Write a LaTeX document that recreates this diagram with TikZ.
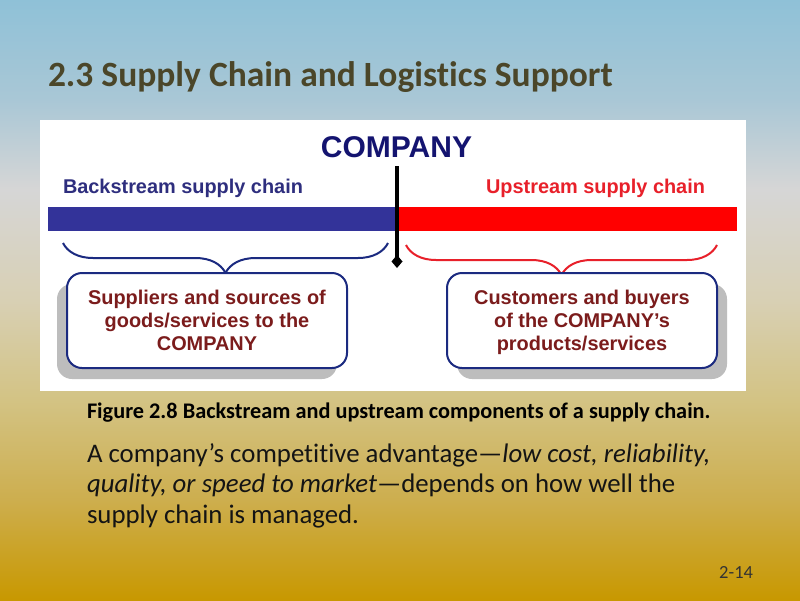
\documentclass[tikz,border=0pt]{standalone}
\usepackage{fontspec}
\setmainfont{Carlito}[Ligatures=NoCommon]
\newfontfamily\arialf{Liberation Sans}
\usetikzlibrary{arrows.meta,decorations.pathreplacing,shadows}
\definecolor{bgA}{HTML}{C89800}
\definecolor{bgB}{HTML}{CDAE4E}
\definecolor{bgC}{HTML}{D3C384}
\definecolor{bgD}{HTML}{D8D0B4}
\definecolor{bgE}{HTML}{D6D6D6}
\definecolor{bgF}{HTML}{A9C7D6}
\definecolor{bgG}{HTML}{8FC1D7}
\definecolor{titlecol}{HTML}{4B4629}
\definecolor{navy}{HTML}{141470}
\definecolor{backblue}{HTML}{2E2E7E}
\definecolor{barblue}{HTML}{333399}
\definecolor{upred}{HTML}{E8202A}
\definecolor{boxline}{HTML}{1B2A80}
\definecolor{maroon}{HTML}{7B1C1C}
\pgfdeclareverticalshading{slidebg}{100bp}{color(0bp)=(bgA); color(25bp)=(bgA); color(33.33bp)=(bgB); color(41.67bp)=(bgC); color(50bp)=(bgD); color(59.17bp)=(bgE); color(66.67bp)=(bgF); color(75bp)=(bgG); color(100bp)=(bgG)}
\tikzset{
  txt/.style={inner sep=0pt, outer sep=0pt},
  diaglabel/.style={txt, font=\arialf\bfseries\fontsize{19.9}{23}\selectfont},
  infobox/.style={draw=boxline, line width=2pt, rounded corners=15pt, fill=white,
     align=center, text=maroon, font=\arialf\bfseries\fontsize{19.9}{23}\selectfont,
     minimum height=95pt, inner sep=0pt, text depth=0pt},
  bracedeco/.style={decorate, decoration={brace, mirror, amplitude=30pt}, line width=2pt},
  bodytext/.style={txt, font=\fontsize{26.8}{30}\selectfont, text=black!92}
}
\begin{document}
\begin{tikzpicture}[x=1pt,y=-1pt]
\useasboundingbox (0,0) rectangle (800,600);
\shade[shading=slidebg] (0,0) rectangle (800,600);
% title
\node[txt, anchor=base west, text=titlecol, font=\bfseries\fontsize{35.5}{40}\selectfont] (title) at (48,86) {2.3 Supply Chain and Logistics Support};
% white figure panel
\fill[white] (40,120) rectangle (746,391);
% bars
\fill[barblue] (48,207) rectangle (397,231);
\fill[red] (397,207) rectangle (737,231);
% labels
\node[txt, anchor=base, text=navy, font=\arialf\bfseries\fontsize{30}{34}\selectfont] (company) at (396.5,157) {COMPANY};
\node[diaglabel, anchor=base west, text=backblue] (back) at (63,193) {Backstream supply chain};
\node[diaglabel, anchor=base east, text=upred] (up) at (705,193) {Upstream supply chain};
% braces
\coordinate (lbA) at (63,243);
\coordinate (lbB) at (388,243);
\coordinate (rbA) at (406,245);
\coordinate (rbB) at (717,245);
\draw[bracedeco, boxline] (lbA) -- (lbB);
\draw[bracedeco, upred] (rbA) -- (rbB);
% boxes
\node[infobox, minimum width=280pt, drop shadow={shadow xshift=-10pt, shadow yshift=-11pt, fill=black!32, opacity=0.8}] (supp) at (207,320.5) {Suppliers and sources of\\goods/services to the\\COMPANY};
\node[infobox, minimum width=270pt, drop shadow={shadow xshift=10pt, shadow yshift=-11pt, fill=black!32, opacity=0.8}] (cust) at (582,320.5) {Customers and buyers\\of the COMPANY’s\\products/services};
% company divider
\coordinate (divend) at (397,268);
\draw[line width=4pt, -{Diamond[length=13pt,width=11pt]}] (397,166) -- (divend);
% caption and body
\node[txt, anchor=base west, font=\bfseries\fontsize{22.3}{26}\selectfont] (caption) at (87,418) {Figure 2.8 Backstream and upstream components of a supply chain.};
\node[bodytext, anchor=base west] (l1) at (87,462) {A company’s competitive advantage—\textit{low cost, reliability,}};
\node[bodytext, anchor=base west] (l2) at (87,492) {\textit{quality, or speed to market}—depends on how well the};
\node[bodytext, anchor=base west] (l3) at (87,523) {supply chain is managed.};
\node[txt, anchor=base east, text=black!80, font=\fontsize{18.5}{22}\selectfont] (pg) at (753,578) {2-14};
\end{tikzpicture}
\end{document}
